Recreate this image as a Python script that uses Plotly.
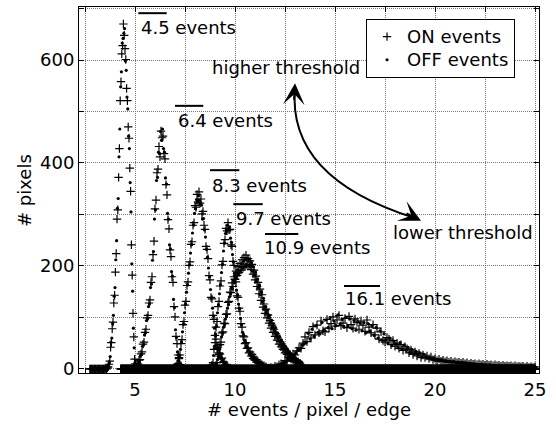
import numpy as np
import plotly.graph_objects as go

# ---------------- data (histograms: # pixels per bin of events/pixel/edge) ----------------
# Each list gives bin counts starting at *_start with spacing *_step; bins outside a list are empty.
HIST_HI = 25.0

p1_step = 0.04
p1_lo = 2.76
p1_on_start = 3.50
p1_on = [0, 1, 0, 2, 4, 9, 15, 42, 51, 78, 91, 128, 143, 188, 224, 291, 309, 372, 428, 521,
         558, 612, 628, 670, 648, 622, 601, 545, 521, 470, 448, 390, 345, 241, 182, 108, 62, 19, 10, 2, 1]
p1_off_start = 3.52
p1_off = [0, 1, 2, 1, 5, 12, 24, 52, 60, 88, 104, 141, 158, 212, 249, 312, 331, 412, 466, 548,
          577, 633, 642, 652, 661, 598, 580, 528, 505, 452, 428, 362, 305, 204, 151, 79, 41, 12, 6, 1, 0]

p2_step = 0.05
p2_lo = 4.3
p2_on_start = 4.90
p2_on = [0, 1, 3, 3, 9, 10, 17, 18, 29, 33, 48, 52, 71, 77, 99, 104, 128, 134, 168, 179,
         222, 248, 311, 328, 381, 388, 432, 412, 462, 449, 452, 418, 408, 358, 338, 290, 272, 231, 218, 179,
         168, 121, 101, 63, 49, 27, 20, 8, 6, 2, 1, 0, 0]
p2_off_start = 4.925
p2_off = [0, 2, 2, 7, 8, 15, 14, 26, 28, 44, 47, 66, 70, 94, 97, 121, 126, 158, 165, 211,
          228, 291, 309, 366, 372, 421, 418, 461, 444, 466, 428, 421, 371, 359, 302, 291, 241, 233, 189, 180,
          135, 119, 76, 61, 33, 27, 11, 9, 3, 3, 0, 1, 0]

p3_step = 0.05
p3_lo = 4.3
p3_on_start = 6.90
p3_on = [0, 2, 1, 5, 9, 10, 22, 27, 49, 57, 86, 92, 124, 131, 162, 169, 201, 208, 242, 247,
         279, 284, 317, 314, 339, 324, 344, 322, 330, 301, 306, 279, 271, 238, 232, 214, 181, 173, 139, 136,
         104, 96, 65, 58, 40, 42, 31, 29, 19, 21, 13, 13, 7, 8, 4, 3, 1, 2, 0]
p3_off_start = 6.925
p3_off = [1, 0, 3, 6, 8, 16, 23, 38, 52, 72, 87, 109, 126, 149, 163, 186, 202, 225, 241, 264,
          280, 302, 311, 329, 326, 336, 328, 319, 318, 291, 292, 270, 256, 232, 217, 196, 179, 154, 138, 118,
          103, 79, 64, 47, 42, 35, 30, 24, 21, 16, 14, 10, 8, 5, 4, 2, 1, 0, 0]

p4_step = 0.05
p4_lo = 4.3
p4_on_start = 8.60
p4_on = [0, 1, 0, 3, 2, 7, 12, 38, 51, 81, 92, 121, 131, 161, 171, 202, 209, 244, 251, 273,
         268, 284, 270, 271, 241, 238, 209, 201, 174, 169, 142, 139, 118, 112, 88, 81, 64, 62, 49, 51,
         40, 41, 31, 33, 25, 28, 20, 23, 17, 18, 13, 14, 10, 11, 8, 8, 5, 6, 3, 4, 2, 1, 1, 0, 0]
p4_off_start = 8.625
p4_off = [1, 0, 2, 2, 4, 9, 26, 44, 68, 83, 109, 124, 146, 163, 187, 203, 229, 244, 263, 267,
          279, 271, 275, 254, 246, 222, 208, 186, 176, 153, 144, 126, 117, 98, 86, 71, 66, 55, 52, 44,
          42, 35, 33, 28, 26, 24, 22, 19, 18, 15, 13, 12, 11, 8, 7, 6, 5, 3, 3, 2, 1, 1, 0, 1, 0]

p5_step = 0.05
p5_lo = 4.3
p5_on_start = 8.80
p5_on = [0, 1, 2, 1, 4, 7, 12, 25, 28, 47, 52, 70, 72, 89, 88, 106, 107, 129, 131, 149,
         148, 167, 160, 179, 174, 190, 181, 199, 187, 205, 192, 212, 197, 216, 199, 221, 202, 214, 201, 210,
         193, 203, 184, 192, 173, 180, 160, 168, 146, 155, 133, 144, 120, 126, 108, 116, 99, 105, 89, 94,
         79, 85, 71, 77, 63, 68, 56, 60, 48, 53, 43, 46, 38, 41, 31, 35, 28, 31, 23, 27,
         19, 22, 17, 19, 14, 16, 12, 14, 10, 11, 8]
p5_off_start = 8.825
p5_off = [1, 0, 2, 3, 5, 10, 18, 24, 38, 46, 62, 69, 81, 86, 97, 103, 118, 125, 140, 146,
          158, 155, 171, 167, 181, 176, 192, 184, 198, 191, 204, 196, 209, 198, 212, 203, 215, 200, 211, 198,
          206, 190, 198, 181, 188, 170, 175, 158, 163, 144, 150, 130, 137, 116, 121, 110, 114, 100, 104, 91,
          95, 82, 88, 74, 80, 66, 70, 60, 63, 53, 56, 47, 49, 40, 44, 35, 38, 30, 33, 26,
          28, 22, 24, 20, 21, 17, 18, 14, 15, 12, 13]

p6_step = 0.10
p6_lo = 4.3
p6_on_start = 11.50
p6_on = [1, 0, 2, 3, 2, 5, 4, 8, 10, 9, 16, 15, 22, 21, 29, 27, 35, 41, 40, 50,
         62, 53, 71, 60, 82, 66, 85, 70, 93, 74, 72, 96, 79, 88, 101, 83, 95, 104, 84, 89,
         98, 80, 102, 86, 79, 97, 90, 77, 93, 85, 73, 95, 81, 70, 86, 66, 79, 58, 72, 55,
         52, 61, 58, 47, 55, 44, 50, 40, 47, 36, 43, 39, 31, 37, 28, 33, 25, 30, 22, 27,
         22, 25, 20, 23, 18, 20, 16, 19, 15, 17, 14, 16, 13, 15, 12, 14, 12, 13, 11, 13,
         10, 12, 9, 11, 9, 10, 8, 10, 8, 9, 7, 9, 7, 8, 6, 8, 6, 7, 5, 7,
         5, 6, 5, 6, 4, 6, 4, 5, 4, 5, 3, 5, 3, 4, 3, 4]
p6_off_start = 11.55
p6_off = [0, 2, 1, 3, 4, 3, 6, 7, 11, 12, 13, 18, 19, 25, 26, 31, 36, 38, 46, 48,
          51, 69, 58, 77, 63, 84, 71, 68, 90, 76, 95, 80, 99, 78, 93, 84, 105, 87, 96, 81,
          100, 83, 97, 78, 94, 75, 92, 89, 74, 90, 70, 88, 73, 84, 65, 80, 60, 74, 56, 68,
          57, 50, 60, 45, 54, 48, 41, 51, 38, 46, 36, 42, 32, 38, 29, 34, 27, 31, 23, 28,
          23, 21, 21, 19, 20, 17, 18, 16, 17, 15, 15, 14, 14, 13, 14, 12, 13, 11, 12, 11,
          11, 10, 10, 9, 10, 8, 9, 8, 9, 7, 8, 7, 8, 6, 7, 6, 7, 5, 6, 5,
          6, 5, 5, 4, 5, 4, 5, 3, 4, 4, 4, 3, 4, 3, 3, 3]

peak_labels = ["4.5", "6.4", "8.3", "9.7", "10.9", "16.1"]
# label anchor (left x, middle y) and overline extent (x0, x1, y) in data units
label_pos = [(5.2, 664), (7.03, 483), (8.75, 357), (9.93, 293), (11.35, 235), (15.4, 136)]
overline = [(5.165, 6.585, 691), (7.0, 8.415, 511), (8.75, 10.215, 386),
            (9.915, 11.385, 320), (11.5, 13.165, 262), (15.45, 17.25, 161)]


def histogram(start, step, vals, lo, hi):
    n_before = int(round((start - lo) / step))
    first = start - n_before * step
    n_total = int(np.floor((hi - first) / step + 1e-9)) + 1
    n_total = max(n_total, n_before + len(vals))
    xs = first + step * np.arange(n_total)
    ys = np.zeros(n_total)
    ys[n_before:n_before + len(vals)] = vals
    return xs, ys


peaks = [
    (p1_step, p1_lo, p1_on_start, p1_on, p1_off_start, p1_off),
    (p2_step, p2_lo, p2_on_start, p2_on, p2_off_start, p2_off),
    (p3_step, p3_lo, p3_on_start, p3_on, p3_off_start, p3_off),
    (p4_step, p4_lo, p4_on_start, p4_on, p4_off_start, p4_off),
    (p5_step, p5_lo, p5_on_start, p5_on, p5_off_start, p5_off),
    (p6_step, p6_lo, p6_on_start, p6_on, p6_off_start, p6_off),
]

on_x, on_y, off_x, off_y = [], [], [], []
for step, lo, s_on, v_on, s_off, v_off in peaks:
    x, y = histogram(s_on, step, v_on, lo, HIST_HI)
    on_x.append(x); on_y.append(y)
    x, y = histogram(s_off, step, v_off, lo, HIST_HI)
    off_x.append(x); off_y.append(y)
on_x = np.concatenate(on_x); on_y = np.concatenate(on_y)
off_x = np.concatenate(off_x); off_y = np.concatenate(off_y)

FS = 18
fig = go.Figure()
fig.add_trace(go.Scatter(
    x=on_x, y=on_y, mode="markers",
    name=f'<span style="font-size:{FS}px">ON events</span>',
    marker=dict(symbol="cross-thin", size=6, color="black", line=dict(color="black", width=1.2)),
))
fig.add_trace(go.Scatter(
    x=off_x, y=off_y, mode="markers",
    name=f'<span style="font-size:{FS}px">OFF events</span>',
    marker=dict(symbol="circle", size=3.2, color="black", line=dict(width=0)),
))

FONT = "DejaVu Sans, Verdana, sans-serif"

annotations = []
for lab, (lx, ly) in zip(peak_labels, label_pos):
    annotations.append(dict(x=lx, y=ly, xref="x", yref="y", text=f"{lab} events", showarrow=False,
                            xanchor="left", yanchor="middle", font=dict(size=FS)))
shapes = []
for x0, x1, yy in overline:
    shapes.append(dict(type="line", xref="x", yref="y", x0=x0, x1=x1, y0=yy, y1=yy,
                       line=dict(color="black", width=2)))

annotations.append(dict(x=8.75, y=585, xref="x", yref="y", text="higher threshold", showarrow=False,
                        xanchor="left", yanchor="middle", font=dict(size=FS)))
annotations.append(dict(x=17.8, y=264, xref="x", yref="y", text="lower threshold", showarrow=False,
                        xanchor="left", yanchor="middle", font=dict(size=FS)))

# curved double arrow
shapes.append(dict(type="path", xref="x", yref="y",
                   path="M 13.0,545 Q 12.6,371 19.0,293",
                   line=dict(color="black", width=2)))
annotations.append(dict(x=13.0, y=555, xref="x", yref="y", text="", showarrow=True,
                        ax=-1, ay=18, axref="pixel", ayref="pixel",
                        arrowhead=3, arrowsize=1.8, arrowwidth=2, arrowcolor="black"))
annotations.append(dict(x=19.3, y=288, xref="x", yref="y", text="", showarrow=True,
                        ax=-16, ay=-8, axref="pixel", ayref="pixel",
                        arrowhead=3, arrowsize=1.8, arrowwidth=2, arrowcolor="black"))

# axis titles
annotations.append(dict(x=-0.1196, y=0.5, xref="paper", yref="paper", text="# pixels", showarrow=False,
                        textangle=-90, xanchor="center", yanchor="middle", font=dict(size=FS)))
annotations.append(dict(x=0.5, y=-0.101, xref="paper", yref="paper", text="# events / pixel / edge",
                        showarrow=False, xanchor="center", yanchor="middle", font=dict(size=FS)))

xt = [2.5, 5, 7.5, 10, 12.5, 15, 17.5, 20, 22.5, 25]
yt = [0, 100, 200, 300, 400, 500, 600, 700]

axis_common = dict(showline=True, linecolor="black", linewidth=1, mirror="allticks",
                   ticks="inside", ticklen=5, tickcolor="black", tickwidth=1,
                   showgrid=True, gridcolor="#777777", griddash="1px,1px", gridwidth=1,
                   zeroline=False, tickfont=dict(size=FS, color="black"))

fig.update_layout(
    width=556, height=426,
    margin=dict(l=79, r=17, t=7, b=53),
    paper_bgcolor="white", plot_bgcolor="white",
    font=dict(family=FONT, size=FS, color="black"),
    xaxis=dict(range=[2.2, 25.2], tickvals=xt,
               ticktext=[("%g" % v) if v % 5 == 0 else "" for v in xt], **axis_common),
    yaxis=dict(range=[-8, 703], tickvals=yt,
               ticktext=[("%g" % v) if v % 200 == 0 else "" for v in yt], **axis_common),
    legend=dict(x=0.624, y=0.9672, xanchor="left", yanchor="top", bordercolor="black",
                borderwidth=1, bgcolor="white", font=dict(size=15.5), tracegroupgap=0),
    annotations=annotations, shapes=shapes,
)

fig.write_html("out.html")
